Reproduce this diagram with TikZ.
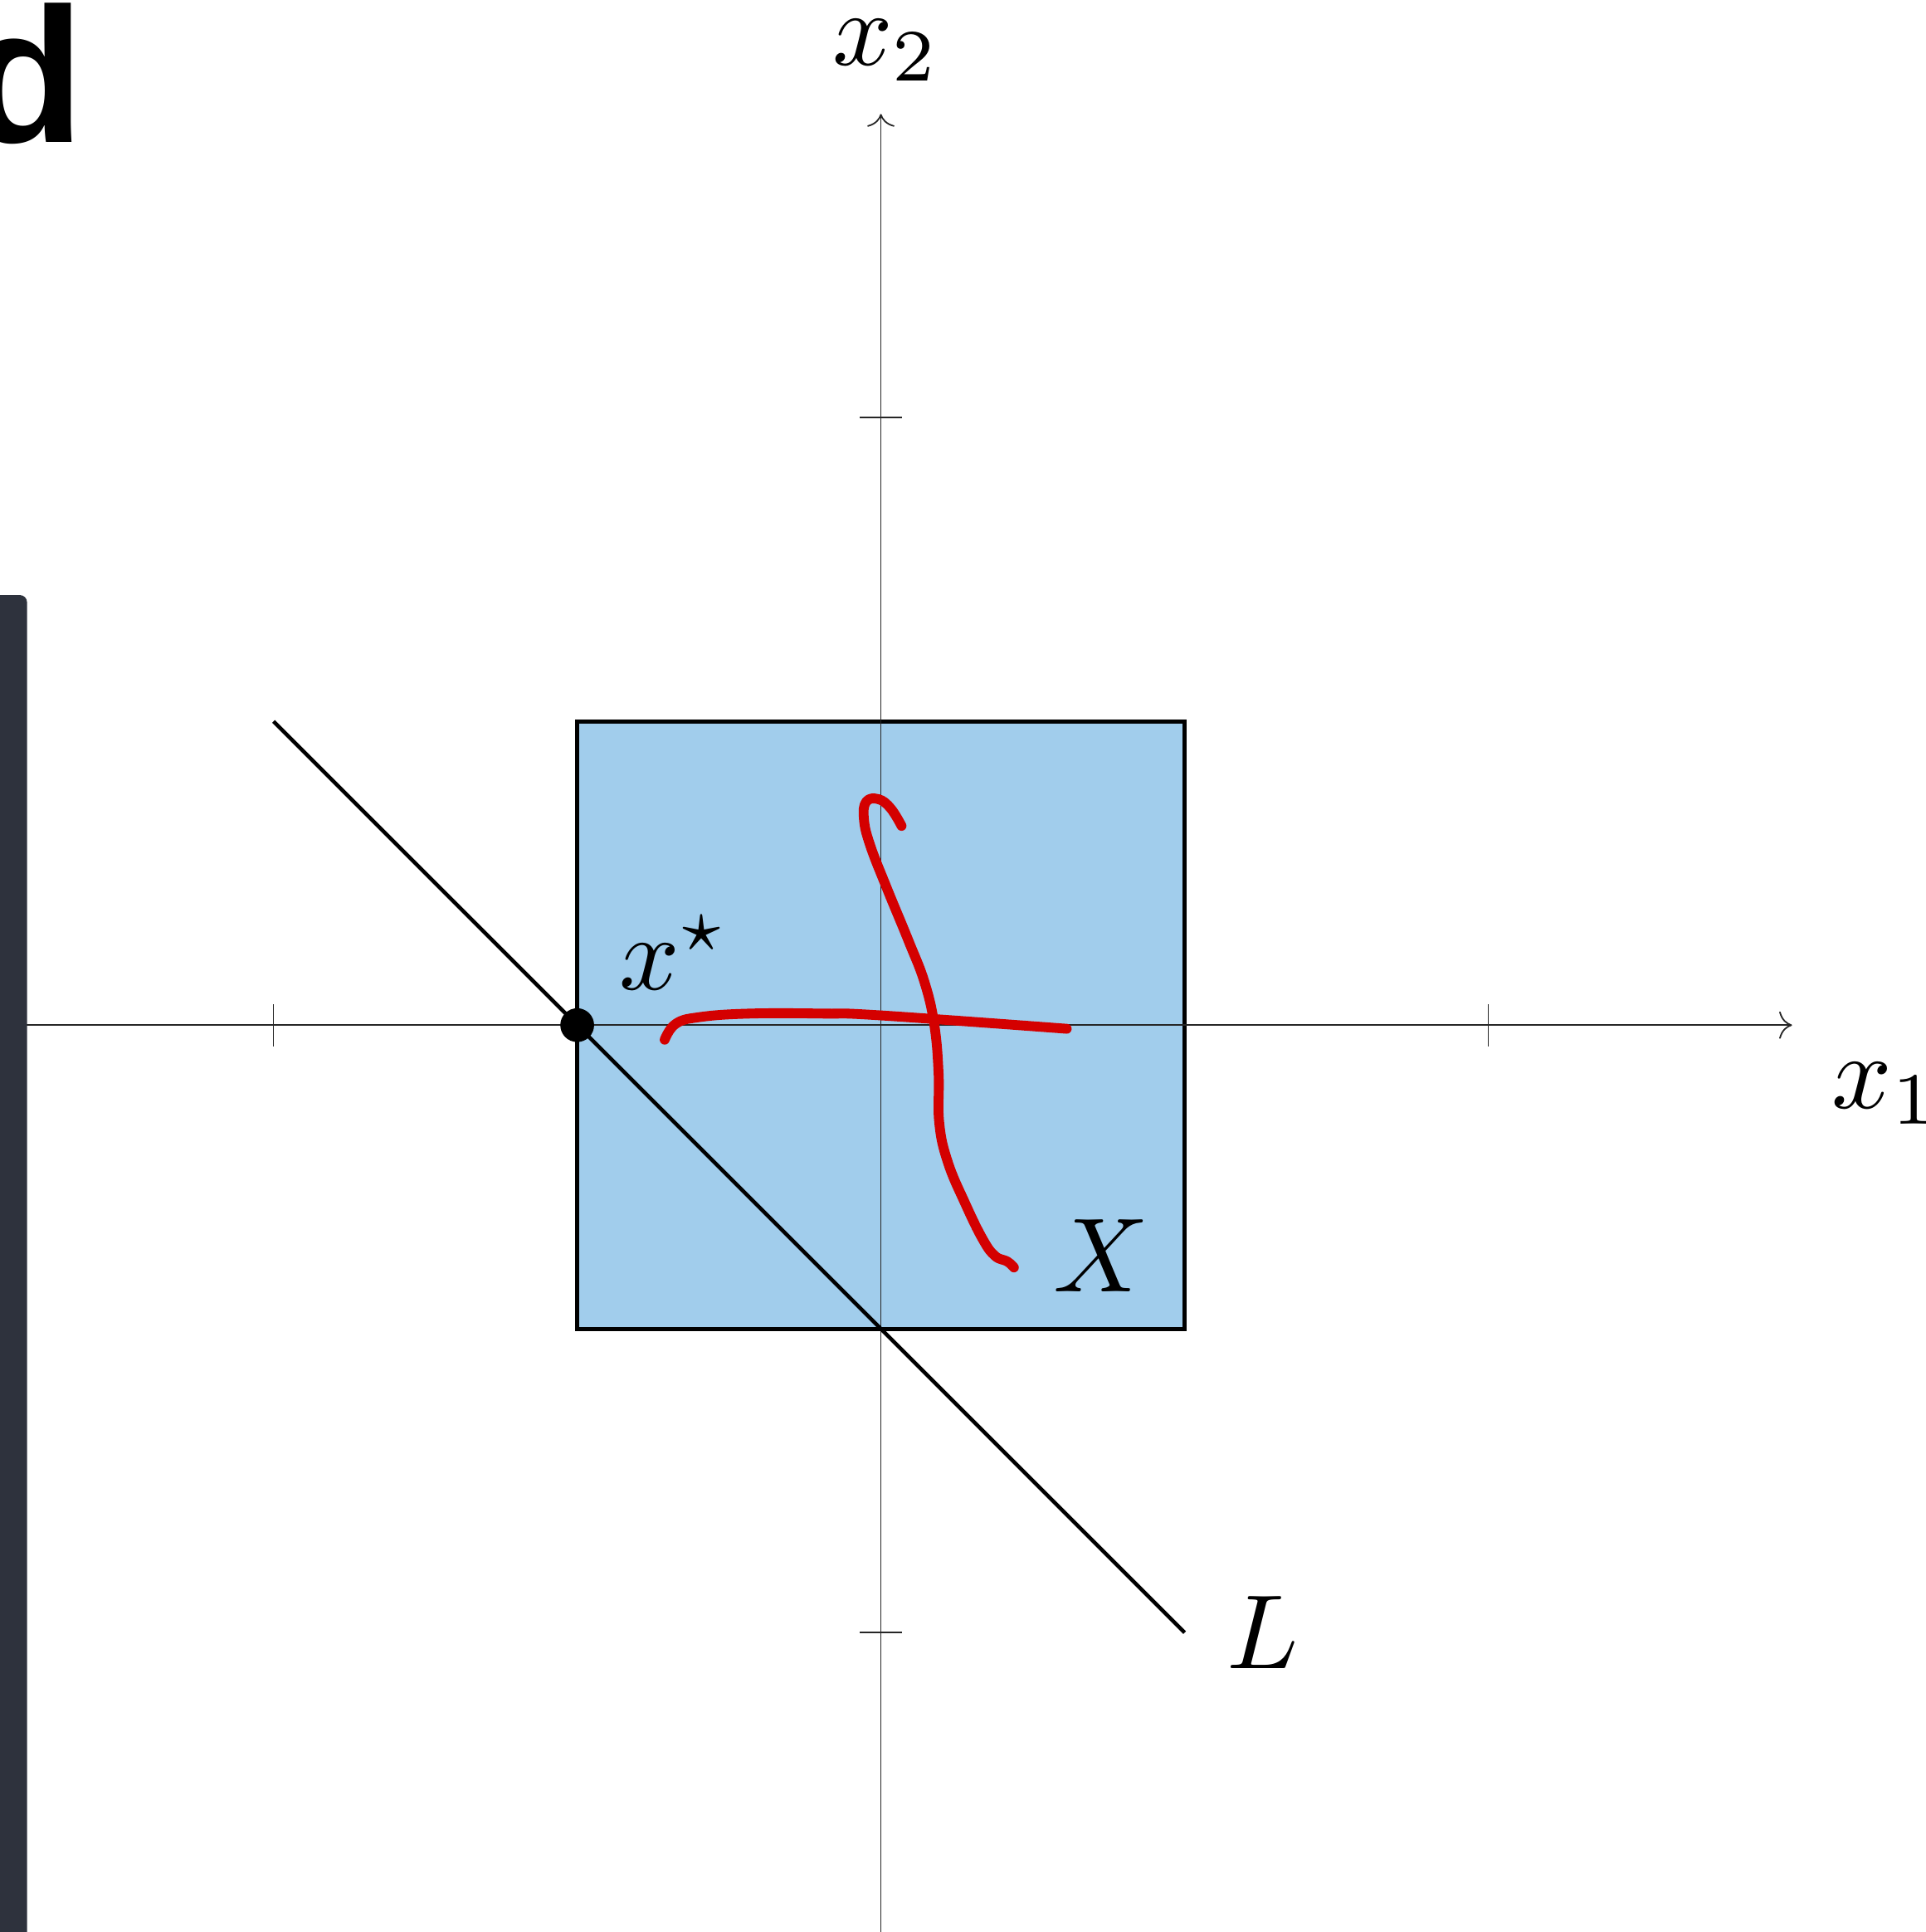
\documentclass[tikz,border=0pt]{standalone}
\usepackage{amsmath,amssymb}
\usepackage{fontspec}
\usepackage{xcolor}
\usepackage{tikz}
\usetikzlibrary{arrows.meta, positioning}

\newfontfamily\panelfont{Liberation Sans}
\definecolor{regionblue}{RGB}{161,205,236}
\definecolor{pathred}{RGB}{212,0,0}
\definecolor{barslate}{RGB}{46,50,61}

\begin{document}
\begin{tikzpicture}[
  x=5cm, y=5cm,
  axis/.style={line width=0.35pt, black!85},
  axisarrow/.style={axis, -{To[length=3pt, width=6.4pt]}},
  tickmark/.style={axis},
  region/.style={draw=black, line width=0.95pt, fill=regionblue},
  lline/.style={black, line width=0.9pt},
  redpath/.style={pathred, line width=2.3pt, line cap=round, line join=round},
  dotmark/.style={circle, fill=black, inner sep=0pt, minimum size=2.78mm},
  mathlabel/.style={inner sep=0pt, scale=2.47, anchor=base west},
  panellabel/.style={inner sep=0pt, anchor=base west,
    font=\panelfont\fontsize{45}{48}\selectfont\bfseries}
]
\useasboundingbox (-1.4503,-1.4929) rectangle (1.7201,1.6876);

% ---- Coordinates ----
\coordinate (xleft)  at (-1.5,0);
\coordinate (xright) at (1.5,0);
\coordinate (ybot)   at (0,-1.5);
\coordinate (ytop)   at (0,1.5);
\coordinate (Lstart) at (-1,0.5);
\coordinate (Lend)   at (0.5,-1);

% ---- Feasible box ----
\draw[region] (-0.5,-0.5) rectangle (0.5,0.5);

% ---- Axes ----
\draw[axisarrow] (xleft) -- (xright);
\draw[axisarrow] (ybot) -- (ytop);
\foreach \t in {-1,1} {
  \draw[tickmark] (\t,-0.035) -- (\t,0.035);
  \draw[tickmark] (-0.035,\t) -- (0.035,\t);
}

% ---- Line L ----
\draw[lline] (Lstart) -- (Lend);

% ---- Red paths ----
\draw[redpath] plot[smooth, tension=0.7] coordinates {
  (-0.356,-0.024) (-0.338,0.002) (-0.300,0.013) (-0.217,0.019)
  (-0.094,0.019) (0.000,0.016) (0.306,-0.006)};
\draw[redpath] plot[smooth, tension=0.7] coordinates {
  (0.034,0.328) (0.016,0.357) (-0.004,0.372) (-0.024,0.368)
  (-0.028,0.340) (-0.018,0.297) (0.010,0.225) (0.045,0.140)
  (0.072,0.070) (0.088,0.000) (0.095,-0.080) (0.096,-0.160)
  (0.110,-0.225) (0.139,-0.294) (0.168,-0.353) (0.188,-0.380)
  (0.208,-0.389) (0.219,-0.399)};

% ---- Optimum ----
\node[dotmark] (xstar) at (-0.5,0) {};

% ---- Labels ----
\node[mathlabel] (xtwo)   at (-0.083,1.581)  {$x_2$};
\node[mathlabel] (xone)   at (1.562,-0.137)  {$x_1$};
\node[mathlabel] (starlb) at (-0.434,0.059)  {$x^\star$};
\node[mathlabel] (setX)   at (0.281,-0.439)  {$X$};
\node[mathlabel] (lineL)  at (0.566,-1.059)  {$L$};
\node[panellabel] (panel) at (-1.506,1.453)  {d};

% ---- Side bar ----
\fill[barslate, rounded corners=0.6mm] (-1.48,-1.53) rectangle (-1.4057,0.708);

\end{tikzpicture}
\end{document}
